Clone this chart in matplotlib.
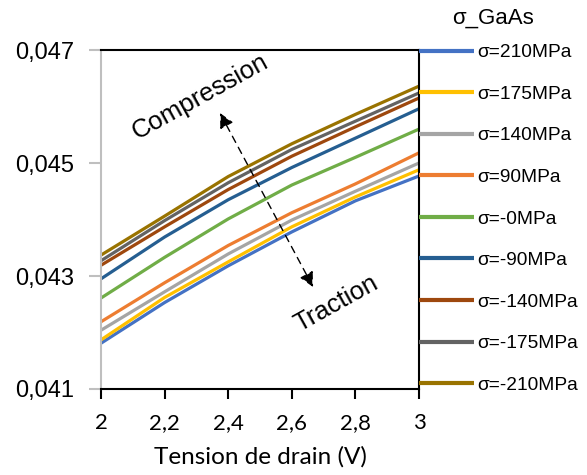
import matplotlib
matplotlib.use("Agg")
import matplotlib.pyplot as plt
from matplotlib.ticker import FuncFormatter

# ---- data ----
tension = [2.0, 2.2, 2.4, 2.6, 2.8, 3.0]
labels = ["σ=210MPa", "σ=175MPa", "σ=140MPa", "σ=90MPa", "σ=-0MPa",
          "σ=-90MPa", "σ=-140MPa", "σ=-175MPa", "σ=-210MPa"]
s_p210 = [0.04181, 0.04253, 0.04318, 0.04378, 0.04433, 0.04477]
s_p175 = [0.04187, 0.04262, 0.04325, 0.04387, 0.04440, 0.04488]
s_p140 = [0.04204, 0.04272, 0.04339, 0.04399, 0.04450, 0.04500]
s_p90  = [0.04219, 0.04288, 0.04354, 0.04412, 0.04463, 0.04518]
s_0    = [0.04261, 0.04333, 0.04401, 0.04461, 0.04510, 0.04560]
s_m90  = [0.04295, 0.04369, 0.04435, 0.04492, 0.04544, 0.04596]
s_m140 = [0.04319, 0.04387, 0.04453, 0.04512, 0.04564, 0.04615]
s_m175 = [0.04327, 0.04398, 0.04465, 0.04524, 0.04574, 0.04624]
s_m210 = [0.04337, 0.04406, 0.04476, 0.04534, 0.04586, 0.04636]
series = [s_p210, s_p175, s_p140, s_p90, s_0, s_m90, s_m140, s_m175, s_m210]
colors = ["#4472C4", "#FFC000", "#A5A5A5", "#ED7D31", "#70AD47",
          "#255E91", "#9E480E", "#636363", "#997300"]
xticks = [2.0, 2.2, 2.4, 2.6, 2.8, 3.0]
yticks = [0.041, 0.043, 0.045, 0.047]

fig = plt.figure(figsize=(5.87, 4.75), dpi=100)
ax = fig.add_axes([101/587, 1-389/475, (419-101)/587, (389-50)/475])

for ys, c, lab in zip(series, colors, labels):
    ax.plot(tension, ys, color=c, lw=2.3, label=lab, solid_capstyle='butt')

ax.set_xlim(2.0, 3.0)
ax.set_ylim(0.041, 0.047)
ax.set_xticks(xticks)
ax.set_yticks(yticks)
ax.xaxis.set_major_formatter(FuncFormatter(lambda v, p: ("%g" % round(v, 1)).replace(".", ",")))
ax.yaxis.set_major_formatter(FuncFormatter(lambda v, p: ("%.3f" % v).replace(".", ",")))

for t in ax.get_xticklabels():
    t.set_fontfamily("Lato"); t.set_fontsize(16)
for t in ax.get_yticklabels():
    t.set_fontfamily("Liberation Sans"); t.set_fontsize(17)

ax.tick_params(axis='x', direction='out', length=7, width=1.5, color='black', pad=10.5)
ax.tick_params(axis='y', direction='out', length=9, width=1.5, color='#bfbfbf', pad=10)
ax.spines['left'].set_color('#bfbfbf')
ax.spines['left'].set_linewidth(1.5)
for s in ['top', 'right', 'bottom']:
    ax.spines[s].set_color('black')
    ax.spines[s].set_linewidth(1.5)

ax.set_xlabel("Tension de drain (V)", fontfamily="Lato", fontsize=17.5, labelpad=9)

# annotations
ax.annotate("", xy=(2.374, 0.045885), xytext=(2.667, 0.042805),
            arrowprops=dict(arrowstyle='<|-|>', linestyle=(0, (5, 4)), lw=1.0,
                            color='black', mutation_scale=22, shrinkA=0, shrinkB=0))
ax.text(2.311, 0.046168, "Compression", rotation=29, fontsize=18.5,
        fontfamily="Liberation Sans", ha='center', va='center', rotation_mode='anchor')
ax.text(2.739, 0.042504, "Traction", rotation=29, fontsize=18.5,
        fontfamily="Liberation Sans", ha='center', va='center', rotation_mode='anchor')

leg = ax.legend(loc='upper left', bbox_to_anchor=(1.0, 1.018), frameon=False,
                prop={'family': 'Liberation Sans', 'size': 13.8},
                handlelength=2.86, handletextpad=0.2, labelspacing=1.26,
                borderaxespad=0, borderpad=0)
for l in leg.get_lines():
    l.set_linewidth(3)
ax.text(1.233, 1.094, "σ_GaAs", transform=ax.transAxes, ha='center', va='center',
        fontfamily="Liberation Sans", fontsize=16)

fig.savefig("out.png", dpi=100)
